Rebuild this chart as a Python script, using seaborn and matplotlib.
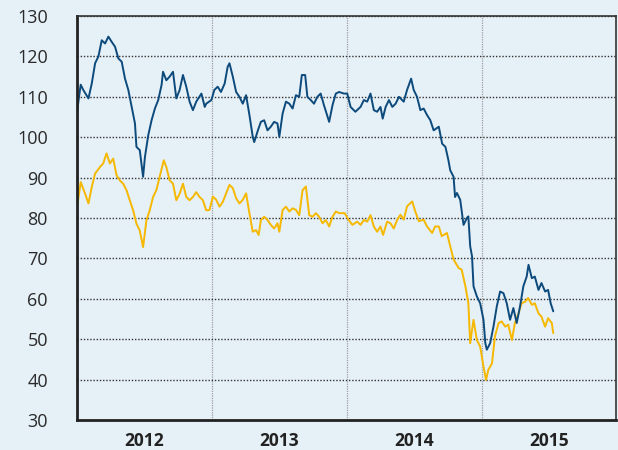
import pandas as pd
import matplotlib
matplotlib.use("Agg")
import matplotlib.pyplot as plt
import seaborn as sns

# ---- data: days since 2012-01-01 and price values ----
blue_days = [0, 4, 10, 17, 31, 40, 49, 58, 67, 76, 85, 94, 103, 112, 121, 130, 139, 148, 157,
             161, 170, 179, 184, 193, 202, 211, 220, 229, 233, 242, 251, 260, 269, 278, 287,
             296, 305, 314, 323, 337, 346,
             350, 364, 372, 381, 390, 400, 408, 413, 422, 431, 440, 449, 458, 467, 476, 480,
             490, 498, 507, 516, 525, 534, 543, 548, 557, 566, 575, 584, 593, 602, 609, 618,
             624, 633, 642, 651, 660, 669, 683, 692, 701, 710,
             723, 732, 741, 754, 768, 777, 786, 795, 804, 813, 822, 828, 836, 845, 854, 863,
             872, 885, 894, 905, 912, 921, 930, 939, 948, 957, 966, 980, 989, 998, 1006, 1011,
             1020, 1024, 1029, 1038, 1047, 1056, 1060, 1065, 1070, 1074, 1083, 1092, 1101,
             1106, 1110, 1119, 1128, 1137, 1146, 1155, 1164, 1173, 1182, 1191, 1200, 1209,
             1218, 1223, 1232, 1240, 1250, 1258, 1268, 1276, 1283, 1290]
blue_vals = [106, 109, 113, 111.7, 109.6, 113.3, 118.3, 120, 124, 123.2, 124.9, 123.6, 122.4,
             119.5, 118.7, 114.5, 111.7, 107.5, 103.4, 97.6, 96.8, 90.2, 95.1, 100.5, 104.2,
             107.1, 109.2, 112.9, 116.2, 114.1, 115, 116.2, 109.6, 111.7, 115.4, 112.5, 108.8,
             106.7, 108.8, 110.8, 107.5,
             108.3, 109.2, 111.7, 112.5, 111.2, 113.3, 117.4, 118.3, 115, 111.2, 110, 108.3,
             110.4, 105.5, 100.1, 98.8, 101.7, 103.8, 104.2, 101.7, 102.6, 103.8, 103.4, 100.1,
             105.9, 108.8, 108.3, 107.1, 110.4, 110, 115.4, 115.4, 110, 109.2, 108.3, 110,
             110.8, 107.9, 103.8, 107.9, 110.8, 111.2,
             110.8, 110.8, 107.5, 106.3, 107.5, 109.2, 108.8, 110.8, 106.7, 106.3, 107.5, 104.6,
             107.5, 109.2, 107.5, 108.3, 110, 108.8, 111.7, 114.5, 111.7, 110, 106.7, 107.1,
             105.5, 104.2, 101.7, 102.6, 98.4, 97.6, 94.3, 91.8,
             90.2, 85.2, 86.2, 84.5, 78.3, 80, 80.4, 73, 70.5, 63.1, 60.6, 58.9, 54.8,
             49, 47.4, 49, 53.1, 58.1, 61.8, 61.4, 58.9, 54.8, 57.7, 54, 58.1, 63.1,
             65.5, 68.4, 65.1, 65.5, 62.2, 63.9, 61.8, 62.2, 58.9, 56.9]

yellow_days = [0, 4, 10, 22, 31, 40, 49, 62, 71, 80, 89, 98, 107, 116, 125, 134, 143, 152, 161,
               170, 179, 188, 197, 206, 215, 224, 235, 242, 251, 260, 269, 278, 287, 296, 305,
               314, 323, 332, 341, 350,
               359, 368, 377, 386, 395, 404, 413, 422, 431, 440, 449, 458, 467, 476, 485, 492,
               498, 507, 516, 525, 534, 543, 548, 557, 566, 575, 584, 593, 602, 611, 620, 629,
               638, 647, 656, 665, 674, 683, 692, 701, 710,
               725, 736, 746, 759, 768, 777, 786, 795, 804, 813, 822, 829, 840, 849, 858, 867,
               876, 885, 894, 908, 916, 926, 939, 948, 962, 970, 980, 988, 1002, 1011, 1020,
               1034, 1042, 1052, 1060, 1065, 1074, 1083, 1092, 1101, 1108, 1114, 1124, 1132,
               1142, 1150, 1160, 1168, 1178, 1186, 1196, 1204, 1214, 1222, 1232, 1240, 1250,
               1258, 1268, 1276, 1286, 1290]
yellow_vals = [82.5, 85, 88.9, 86, 83.6, 87.7, 91, 92.6, 93.5, 96, 93.5, 94.7, 90.6, 89.3, 88.5,
               86.9, 84.4, 81.9, 78.6, 76.9, 72.8, 79.4, 81.9, 85.2, 86.9, 90.2, 94.3, 92.6,
               89.3, 88.5, 84.4, 86, 88.5, 85.2, 84.4, 85.2, 86.4, 85.2, 84.4, 81.9,
               82, 85.3, 84.5, 82.8, 84, 86.1, 88.2, 87.4, 84.9, 83.6, 84.5, 86.1, 81.2, 76.6,
               77, 75.8, 79.5, 80.3, 79.5, 78.3, 77.4, 78.7, 76.6, 82, 82.8, 81.6, 82.4, 82,
               80.7, 86.9, 87.8, 80.7, 80.3, 81.2, 80.3, 78.7, 79.5, 77.9, 80.3, 81.6, 81.2,
               81.2, 79.5, 78.3, 79.1, 78.3, 79.5, 79.1, 80.7, 77.9, 76.6, 77.9, 75.8, 79.1,
               78.7, 77.4, 79.5,
               80.8, 79.6, 82.9, 84.1, 81.7, 79.2, 79.6, 77.9, 76.3, 77.9, 77.9, 75.5, 76.3,
               73, 69.7, 67.6, 67.2, 63.1, 58.9, 49, 54.8, 49.8, 48.2, 43.2, 39.9, 42.4, 44,
               50.7, 54, 54.4, 53.1, 53.6, 49.8, 54, 56.4, 58.9, 59.3, 60.2, 58.5, 58.9, 56.4,
               55.6, 53.1, 55.2, 54, 51.5]

year_labels = ["2012", "2013", "2014", "2015"]
y_ticks = [30, 40, 50, 60, 70, 80, 90, 100, 110, 120, 130]

# ---- build long table ----
start = pd.Timestamp("2012-01-01")
df_blue = pd.DataFrame({"date": start + pd.to_timedelta(blue_days, unit="D"),
                        "price": blue_vals, "series": "blue"})
df_yellow = pd.DataFrame({"date": start + pd.to_timedelta(yellow_days, unit="D"),
                          "price": yellow_vals, "series": "yellow"})
df = pd.concat([df_yellow, df_blue], ignore_index=True)

# ---- style ----
bg = "#e5f0f7"
sns.set_style("white")
plt.rcParams["font.family"] = ["Open Sans", "DejaVu Sans"]

fig = plt.figure(figsize=(6.18, 4.5), dpi=100, facecolor=bg)
ax = fig.add_axes([0.1246, 0.0667, 0.8722, 0.8977])
ax.set_facecolor(bg)

sns.lineplot(data=df, x="date", y="price", hue="series",
             palette={"blue": "#0d4a7c", "yellow": "#f6b800"},
             linewidth=1.4, estimator=None, sort=False, legend=False, ax=ax)

ax.set_xlim(pd.Timestamp("2012-01-01"), pd.Timestamp("2015-12-31"))
ax.set_ylim(30, 130)
ax.set_yticks(y_ticks)
ax.set_xlabel("")
ax.set_ylabel("")

# year boundaries as major ticks (gridlines), year names at mid-year
ax.set_xticks([pd.Timestamp(f"{y}-01-01") for y in (2013, 2014, 2015)])
ax.set_xticklabels([])
ax.set_xticks([pd.Timestamp(f"{y}-07-02") for y in year_labels], minor=True)
ax.set_xticklabels(year_labels, minor=True, fontweight="bold", fontsize=12.5)
ax.tick_params(axis="x", which="both", length=0, pad=9, colors="#222222")
ax.tick_params(axis="y", length=13, width=1.8, color="#333333", pad=8,
               labelsize=13, labelcolor="#2a2a2a", direction="out")

ax.grid(axis="y", linestyle=(0, (1, 1.3)), color="#333333", linewidth=1.0)
ax.grid(axis="x", which="major", linestyle=(0, (1, 0.9)), color="#a0a0a0", linewidth=0.9)

for side in ("left", "bottom"):
    ax.spines[side].set_linewidth(2.0)
    ax.spines[side].set_color("#222222")
for side in ("top", "right"):
    ax.spines[side].set_linewidth(1.2)
    ax.spines[side].set_color("#333333")
    ax.spines[side].set_visible(True)

plt.savefig("out.png", dpi=100, facecolor=bg)
